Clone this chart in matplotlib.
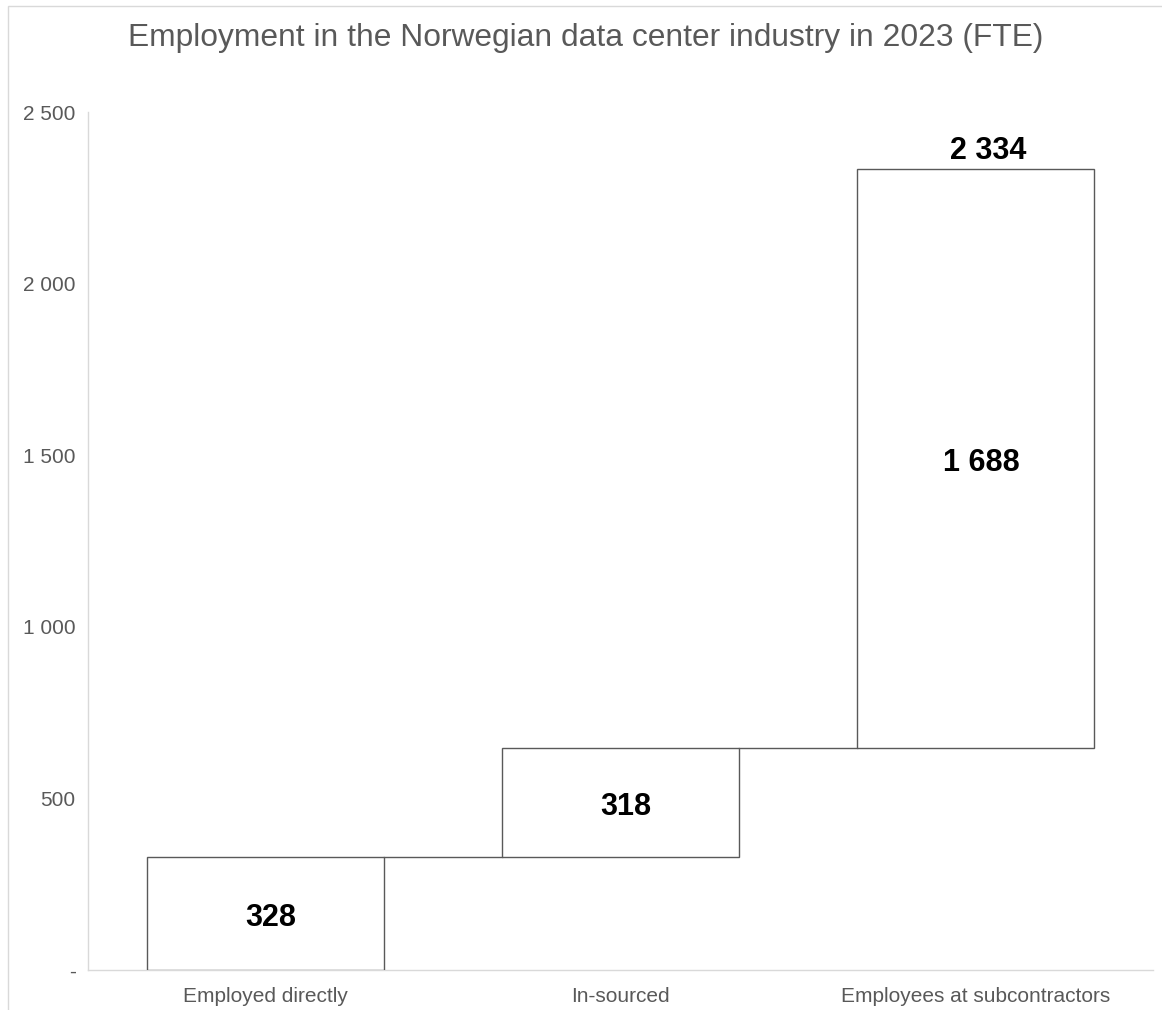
import matplotlib
matplotlib.use("Agg")
import matplotlib.pyplot as plt
from matplotlib.ticker import FuncFormatter, FixedLocator
from matplotlib.patches import Rectangle

categories = ["Employed directly", "In-sourced", "Employees at subcontractors"]
values = [328, 318, 1688]
total_label = 2334
y_ticks = [0, 500, 1000, 1500, 2000, 2500]

plt.rcParams['font.family'] = ['Liberation Sans', 'DejaVu Sans']

fig = plt.figure(figsize=(11.62, 10.10), dpi=100)
ax = fig.add_axes([88/1162, 1 - 970/1010, (1153-88)/1162, (970-112)/1010])

gray = "#595959"
bottoms = []
acc = 0
for v in values:
    bottoms.append(acc)
    acc += v

x = list(range(len(categories)))
width = 0.668
ax.bar(x, values, bottom=bottoms, width=width, color="white",
       edgecolor=gray, linewidth=1.0, zorder=3)

# connectors
for i in range(len(values) - 1):
    level = bottoms[i] + values[i]
    ax.plot([x[i] + width/2, x[i+1] - width/2], [level, level],
            color=gray, linewidth=1.0, zorder=2)

# value labels
for i, v in enumerate(values):
    ax.annotate(f"{v:,}".replace(",", " "), (x[i], bottoms[i] + v/2),
                xytext=(4, -3), textcoords="offset points",
                ha="center", va="center", fontsize=22, fontweight="bold",
                color="black", zorder=4)
ax.annotate(f"{total_label:,}".replace(",", " "), (x[-1], acc),
            xytext=(9, 2), textcoords="offset points", ha="center",
            va="bottom", fontsize=22, fontweight="bold", color="black",
            zorder=4)

ax.set_xlim(-0.5, 2.5)
ax.set_ylim(0, 2500)
ax.yaxis.set_major_locator(FixedLocator(y_ticks))
ax.yaxis.set_major_formatter(FuncFormatter(
    lambda v, p: "-" if v == 0 else f"{int(v):,}".replace(",", " ")))
ax.set_xticks(x)
ax.set_xticklabels(categories)
ax.tick_params(axis="y", length=0, pad=9, labelsize=15, labelcolor=gray)
ax.tick_params(axis="x", length=0, pad=12, labelsize=15, labelcolor=gray)

for s in ["top", "right"]:
    ax.spines[s].set_visible(False)
for s in ["left", "bottom"]:
    ax.spines[s].set_color("#d9d9d9")
    ax.spines[s].set_linewidth(1.0)

fig.text(586/1162, 1 - 46/1010, "Employment in the Norwegian data center industry in 2023 (FTE)",
         ha="center", va="baseline", fontsize=22.9, color=gray)

fig.patches.append(Rectangle((8/1162, -0.1), 2, (1010-6)/1010 + 0.1,
                             transform=fig.transFigure, fill=False,
                             edgecolor="#d9d9d9", linewidth=1.0))

fig.savefig("out.png", dpi=100, facecolor="white")
